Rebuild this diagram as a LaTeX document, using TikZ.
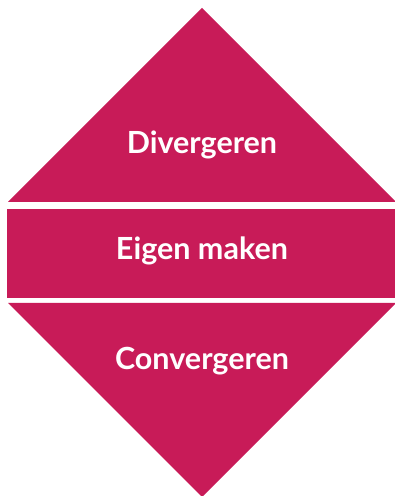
\documentclass[tikz,border=0pt]{standalone}
\usepackage{fontspec}
\setmainfont{Lato}
\definecolor{rosered}{RGB}{200,27,88}

\begin{document}
\begin{tikzpicture}[x=1pt,y=1pt,
    band/.style = {fill=rosered, draw=none},
    bandtext/.style = {text=white, anchor=base, font=\bfseries\fontsize{30.5}{34}\selectfont}
  ]
  \useasboundingbox (0,0) rectangle (395,496);
  % three bands of the diamond
  \fill[band] (202,488) -- (396,294) -- (8,294) -- cycle;
  \fill[band] (7,287) rectangle (396,198);
  \fill[band] (8,193) -- (396,193) -- (202,-1) -- cycle;
  \foreach \txt/\y/\name in {Divergeren/342/div, Eigen maken/236/eig, Convergeren/126/con}{ % one label per band
      \node[bandtext] (\name) at (202,\y) {\txt};
    }

\end{tikzpicture}
\end{document}
